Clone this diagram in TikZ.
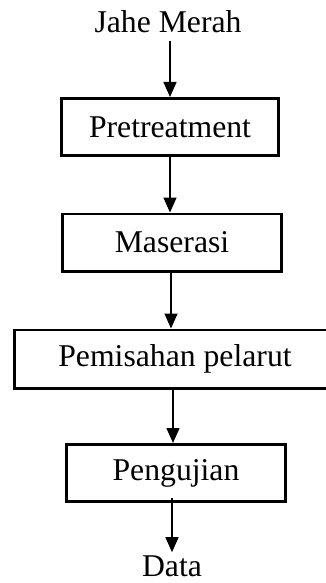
\documentclass[tikz,border=0pt]{standalone}
\usepackage{fontspec}
\setmainfont{Liberation Serif}
\usetikzlibrary{arrows.meta}
\begin{document}
\begin{tikzpicture}[x=1pt,y=1pt,
  box/.style={draw, line width=2.6pt, minimum height=57.4pt, inner sep=0pt},
  arr/.style={line width=1.5pt, -{Triangle[width=13pt,length=15pt]}},
  font=\fontsize{31.7}{38}\selectfont]
\useasboundingbox (0,0) rectangle (325,-583);
\node[anchor=base] (jahe) at (168,-33) {Jahe Merah};
\node[box, minimum width=217.4pt] (pre) at (170,-127) {Pretreatment};
\node[box, minimum width=219.4pt] (mas) at (172,-242.5) {Maserasi};
\node[box, minimum width=321.4pt, minimum height=58.4pt] (pem) at (175,-359) {Pemisahan pelarut};
\node[box, minimum width=219.4pt] (pen) at (176,-473) {Pengujian};
\node[anchor=base] (data) at (172,-576.5) {Data};
\coordinate (s1) at (170,-41);
\coordinate (s2) at (170,-157);
\coordinate (s3) at (171,-273);
\coordinate (s4) at (173,-389);
\coordinate (s5) at (172,-498);
\draw[arr] (s1) -- (s1 |- pre.north);
\draw[arr] (s2) -- (s2 |- mas.north);
\draw[arr] (s3) -- (s3 |- pem.north);
\draw[arr] (s4) -- (s4 |- pen.north);
\draw[arr] (s5) -- (s5 |- data.north);
\end{tikzpicture}
\end{document}
